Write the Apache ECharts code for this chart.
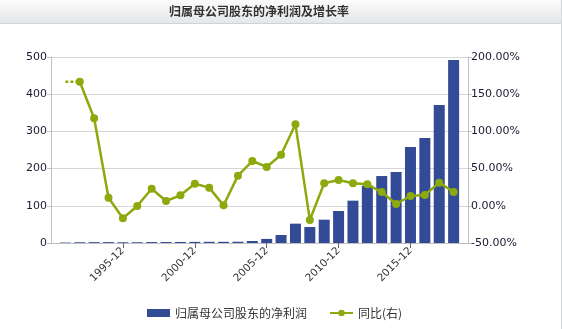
<!DOCTYPE html>
<html>
<head>
<meta charset="utf-8">
<script src="https://cdn.jsdelivr.net/npm/echarts@6/dist/echarts.min.js"></script>
<style>
  html, body { margin: 0; padding: 0; background: #fff; }
  #chart { width: 562px; height: 329px; }
</style>
</head>
<body>
<div id="chart"></div>
<script>
// Fiscal years shown on the category axis (first and last are padding slots)
const years = [
  '1990-12','1991-12','1992-12','1993-12','1994-12','1995-12','1996-12','1997-12',
  '1998-12','1999-12','2000-12','2001-12','2002-12','2003-12','2004-12','2005-12',
  '2006-12','2007-12','2008-12','2009-12','2010-12','2011-12','2012-12','2013-12',
  '2014-12','2015-12','2016-12','2017-12','2018-12','2019-12'
];

// Net profit attributable to shareholders of the parent company
const netProfit = [
  null, 1.2, 2.0, 2.3, 2.4, 2.0, 2.0, 2.5, 2.6, 2.8, 3.0, 3.2, 3.2, 3.4, 5.4, 11,
  21.5, 52, 43, 62.7, 86, 113.8, 154, 180, 190.9, 258, 282, 371, 492, null
];

// Year-on-year growth, percent (right axis)
const yoyGrowth = [
  null, null, 166.8, 117.6, 10.9, -16.8, -0.3, 23.0, 6.5, 14.1, 29.7, 24.4, 0.6, 40.5, 60.2,
  52.2, 68.7, 109.5, -19.0, 30.2, 34.7, 30.2, 28.9, 18.5, 2.4, 13.2, 14.5, 31.1, 18.5, null
];

// Dashed lead-in before the first reported growth value
const yoyLeadIn = [null, 166.8, 166.8];

const leftTicks = { min: 0, max: 500, interval: 100 };
const rightTicks = { min: -50, max: 200, interval: 50 };

const chart = echarts.init(document.getElementById('chart'));
const labelShown = (i) => i > 0 && i < years.length - 1 && i % 5 === 0;
const cjk = '"Noto Sans CJK SC", sans-serif';

chart.setOption({
  animation: false,
  textStyle: { fontFamily: '"DejaVu Sans", sans-serif' },
  graphic: [
    {
      type: 'rect',
      left: 0, top: 0, z: -1,
      shape: { width: 562, height: 23 },
      style: {
        fill: new echarts.graphic.LinearGradient(0, 0, 0, 1, [
          { offset: 0, color: '#fbfbfb' },
          { offset: 1, color: '#e6e7e9' }
        ])
      }
    },
    {
      type: 'line', z: -1,
      shape: { x1: 0, y1: 23.5, x2: 562, y2: 23.5 },
      style: { stroke: '#cfd2d6', lineWidth: 1 }
    },
    {
      type: 'line', z: -1,
      shape: { x1: 561.5, y1: 0, x2: 561.5, y2: 329 },
      style: { stroke: '#d4d6d9', lineWidth: 1 }
    }
  ],
  title: {
    text: '归属母公司股东的净利润及增长率',
    left: 254, top: 0, textAlign: 'center',
    textStyle: { fontSize: 12, fontWeight: 'bold', color: '#333', fontFamily: cjk }
  },
  legend: {
    bottom: 5, left: 142,
    itemWidth: 23, itemHeight: 8, itemGap: 22,
    textStyle: { fontSize: 12, color: '#333', fontFamily: cjk },
    data: [
      { name: '归属母公司股东的净利润', icon: 'rect' },
      { name: '同比(右)' }
    ]
  },
  grid: { left: 51, right: 94, top: 57, bottom: 86 },
  xAxis: {
    type: 'category',
    data: years,
    boundaryGap: false,
    axisLine: { lineStyle: { color: '#c0c0c0' } },
    axisTick: { interval: (i) => labelShown(i), length: 5, lineStyle: { color: '#666' } },
    axisLabel: {
      interval: (i) => labelShown(i),
      rotate: 45, fontSize: 10.5, color: '#333', margin: 6
    },
    splitLine: { show: false }
  },
  yAxis: [
    {
      type: 'value', position: 'left',
      min: leftTicks.min, max: leftTicks.max, interval: leftTicks.interval,
      axisLine: { show: true, lineStyle: { color: '#c0c0c0' } },
      axisTick: { show: true, length: 4, lineStyle: { color: '#c0c0c0' } },
      axisLabel: { fontSize: 11, color: '#1a1a33', margin: 4 },
      splitLine: { lineStyle: { color: '#d6d6d6' } }
    },
    {
      type: 'value', position: 'right',
      min: rightTicks.min, max: rightTicks.max, interval: rightTicks.interval,
      axisLine: { show: true, lineStyle: { color: '#c0c0c0' } },
      axisTick: { show: true, length: 4, lineStyle: { color: '#c0c0c0' } },
      axisLabel: {
        fontSize: 11, color: '#1a1a33', margin: 3,
        formatter: (v) => v.toFixed(2) + '%'
      },
      splitLine: { show: false }
    }
  ],
  series: [
    {
      name: '归属母公司股东的净利润',
      type: 'bar',
      yAxisIndex: 0,
      data: netProfit,
      barWidth: 11,
      itemStyle: { color: '#334b96' }
    },
    {
      name: '同比(右)',
      type: 'line',
      yAxisIndex: 1,
      data: yoyGrowth,
      symbol: 'circle',
      symbolSize: 8,
      lineStyle: { color: '#8ca90e', width: 2.5 },
      itemStyle: { color: '#8ca90e' },
      z: 3
    },
    {
      name: 'lead-in',
      type: 'line',
      yAxisIndex: 1,
      data: yoyLeadIn,
      symbol: 'none',
      lineStyle: { color: '#8ca90e', width: 2.5, type: [3, 2] },
      z: 2
    }
  ]
});
</script>
</body>
</html>
